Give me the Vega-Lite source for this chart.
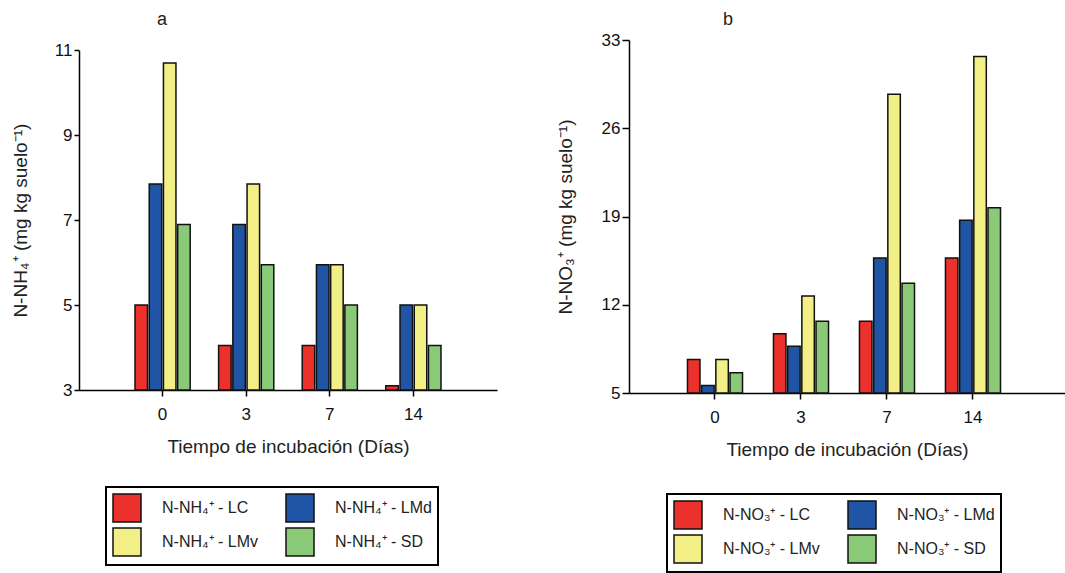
{
  "$schema": "https://vega.github.io/schema/vega-lite/v6.json",
  "padding": {"left": 11, "top": 11, "right": 0, "bottom": 0},
  "spacing": 59,
  "background": "white",
  "config": {
    "font": "Liberation Sans",
    "view": {"stroke": null},
    "axis": {
      "domainColor": "black", "domainWidth": 1.5, "tickColor": "black", "tickWidth": 1.5,
      "labelColor": "#111", "titleColor": "#222", "labelFont": "Liberation Sans", "titleFont": "Liberation Sans",
      "labelFontSize": 17, "titleFontSize": 19, "titleFontWeight": "normal", "grid": false, "tickSize": 6
    },
    "legend": {"strokeWidth": 2, "labelFont": "Liberation Sans", "labelColor": "#222"},
    "title": {"fontSize": 18, "fontWeight": "normal", "anchor": "start", "frame": "group", "font": "Liberation Sans", "color": "#222"}
  },
  "datasets": {
    "nh4": [
      {"dia": "0", "serie": "N-NH₄⁺ - LC", "valor": 5.0},
      {"dia": "0", "serie": "N-NH₄⁺ - LMd", "valor": 7.85},
      {"dia": "0", "serie": "N-NH₄⁺ - LMv", "valor": 10.7},
      {"dia": "0", "serie": "N-NH₄⁺ - SD", "valor": 6.9},
      {"dia": "3", "serie": "N-NH₄⁺ - LC", "valor": 4.05},
      {"dia": "3", "serie": "N-NH₄⁺ - LMd", "valor": 6.9},
      {"dia": "3", "serie": "N-NH₄⁺ - LMv", "valor": 7.85},
      {"dia": "3", "serie": "N-NH₄⁺ - SD", "valor": 5.95},
      {"dia": "7", "serie": "N-NH₄⁺ - LC", "valor": 4.05},
      {"dia": "7", "serie": "N-NH₄⁺ - LMd", "valor": 5.95},
      {"dia": "7", "serie": "N-NH₄⁺ - LMv", "valor": 5.95},
      {"dia": "7", "serie": "N-NH₄⁺ - SD", "valor": 5.0},
      {"dia": "14", "serie": "N-NH₄⁺ - LC", "valor": 3.1},
      {"dia": "14", "serie": "N-NH₄⁺ - LMd", "valor": 5.0},
      {"dia": "14", "serie": "N-NH₄⁺ - LMv", "valor": 5.0},
      {"dia": "14", "serie": "N-NH₄⁺ - SD", "valor": 4.05}
    ],
    "no3": [
      {"dia": "0", "serie": "N-NO₃⁺ - LC", "valor": 7.65},
      {"dia": "0", "serie": "N-NO₃⁺ - LMd", "valor": 5.6},
      {"dia": "0", "serie": "N-NO₃⁺ - LMv", "valor": 7.65},
      {"dia": "0", "serie": "N-NO₃⁺ - SD", "valor": 6.6},
      {"dia": "3", "serie": "N-NO₃⁺ - LC", "valor": 9.7},
      {"dia": "3", "serie": "N-NO₃⁺ - LMd", "valor": 8.7},
      {"dia": "3", "serie": "N-NO₃⁺ - LMv", "valor": 12.7},
      {"dia": "3", "serie": "N-NO₃⁺ - SD", "valor": 10.7},
      {"dia": "7", "serie": "N-NO₃⁺ - LC", "valor": 10.7},
      {"dia": "7", "serie": "N-NO₃⁺ - LMd", "valor": 15.7},
      {"dia": "7", "serie": "N-NO₃⁺ - LMv", "valor": 28.7},
      {"dia": "7", "serie": "N-NO₃⁺ - SD", "valor": 13.7},
      {"dia": "14", "serie": "N-NO₃⁺ - LC", "valor": 15.7},
      {"dia": "14", "serie": "N-NO₃⁺ - LMd", "valor": 18.7},
      {"dia": "14", "serie": "N-NO₃⁺ - LMv", "valor": 31.7},
      {"dia": "14", "serie": "N-NO₃⁺ - SD", "valor": 19.7}
    ]
  },
  "hconcat": [
    {
      "data": {"name": "nh4"},
      "width": 418,
      "height": 350,
      "title": {"text": "a", "dx": 78, "offset": 11},
      "mark": {"type": "bar", "stroke": "#111", "strokeWidth": 1.5},
      "encoding": {
        "x": {
          "field": "dia", "type": "ordinal",
          "scale": {"domain": ["0", "3", "7", "14"], "paddingInner": 0.34, "paddingOuter": 0.67},
          "axis": {"title": "Tiempo de incubación (Días)", "labelAngle": 0, "labelPadding": 10, "titlePadding": 15}
        },
        "xOffset": {"field": "serie", "sort": ["N-NH₄⁺ - LC", "N-NH₄⁺ - LMd", "N-NH₄⁺ - LMv", "N-NH₄⁺ - SD"], "scale": {"paddingInner": 0.12}},
        "y": {
          "field": "valor", "type": "quantitative",
          "scale": {"domain": [3, 11], "nice": false, "zero": false, "range": [350, 10.3]},
          "axis": {"values": [3, 5, 7, 9, 11], "title": "N-NH₄⁺ (mg kg suelo⁻¹)", "tickSize": 5, "titlePadding": 24}
        },
        "y2": {"datum": 3},
        "color": {
          "field": "serie", "type": "nominal",
          "scale": {"domain": ["N-NH₄⁺ - LC", "N-NH₄⁺ - LMd", "N-NH₄⁺ - LMv", "N-NH₄⁺ - SD"], "range": ["#EC312D", "#2054A5", "#F2EF87", "#8AC978"]},
          "legend": {
            "orient": "none", "legendX": 27, "legendY": 447, "columns": 2, "direction": "horizontal", "title": null,
            "symbolType": "square", "symbolSize": 784, "symbolStrokeColor": "#111", "symbolStrokeWidth": 1.5, "symbolOpacity": 1,
            "labelFontSize": 16, "labelOffset": 20, "columnPadding": 25, "rowPadding": 0, "padding": 6, "strokeColor": "black"
          }
        }
      }
    },
    {
      "data": {"name": "no3"},
      "width": 436,
      "height": 353,
      "title": {"text": "b", "dx": 94, "offset": 2},
      "mark": {"type": "bar", "stroke": "#111", "strokeWidth": 1.5},
      "encoding": {
        "x": {
          "field": "dia", "type": "ordinal",
          "scale": {"domain": ["0", "3", "7", "14"], "paddingInner": 0.36, "paddingOuter": 0.715, "align": 0.4755},
          "axis": {"title": "Tiempo de incubación (Días)", "labelAngle": 0, "labelPadding": 10, "titlePadding": 15}
        },
        "xOffset": {"field": "serie", "sort": ["N-NO₃⁺ - LC", "N-NO₃⁺ - LMd", "N-NO₃⁺ - LMv", "N-NO₃⁺ - SD"], "scale": {"paddingInner": 0.12}},
        "y": {
          "field": "valor", "type": "quantitative",
          "scale": {"domain": [5, 33], "nice": false, "zero": false},
          "axis": {"values": [5, 12, 19, 26, 33], "title": "N-NO₃⁺ (mg kg suelo⁻¹)", "tickSize": 7, "titlePadding": 26}
        },
        "y2": {"datum": 5},
        "color": {
          "field": "serie", "type": "nominal",
          "scale": {"domain": ["N-NO₃⁺ - LC", "N-NO₃⁺ - LMd", "N-NO₃⁺ - LMv", "N-NO₃⁺ - SD"], "range": ["#EC312D", "#2054A5", "#F2EF87", "#8AC978"]},
          "legend": {
            "orient": "none", "legendX": 38, "legendY": 454, "columns": 2, "direction": "horizontal", "title": null,
            "symbolType": "square", "symbolSize": 784, "symbolStrokeColor": "#111", "symbolStrokeWidth": 1.5, "symbolOpacity": 1,
            "labelFontSize": 16, "labelOffset": 20, "columnPadding": 25, "rowPadding": 0, "padding": 6, "strokeColor": "black"
          }
        }
      }
    }
  ],
  "resolve": {
    "scale": {"color": "independent", "x": "independent", "y": "independent", "xOffset": "independent"},
    "legend": {"color": "independent"}
  }
}
